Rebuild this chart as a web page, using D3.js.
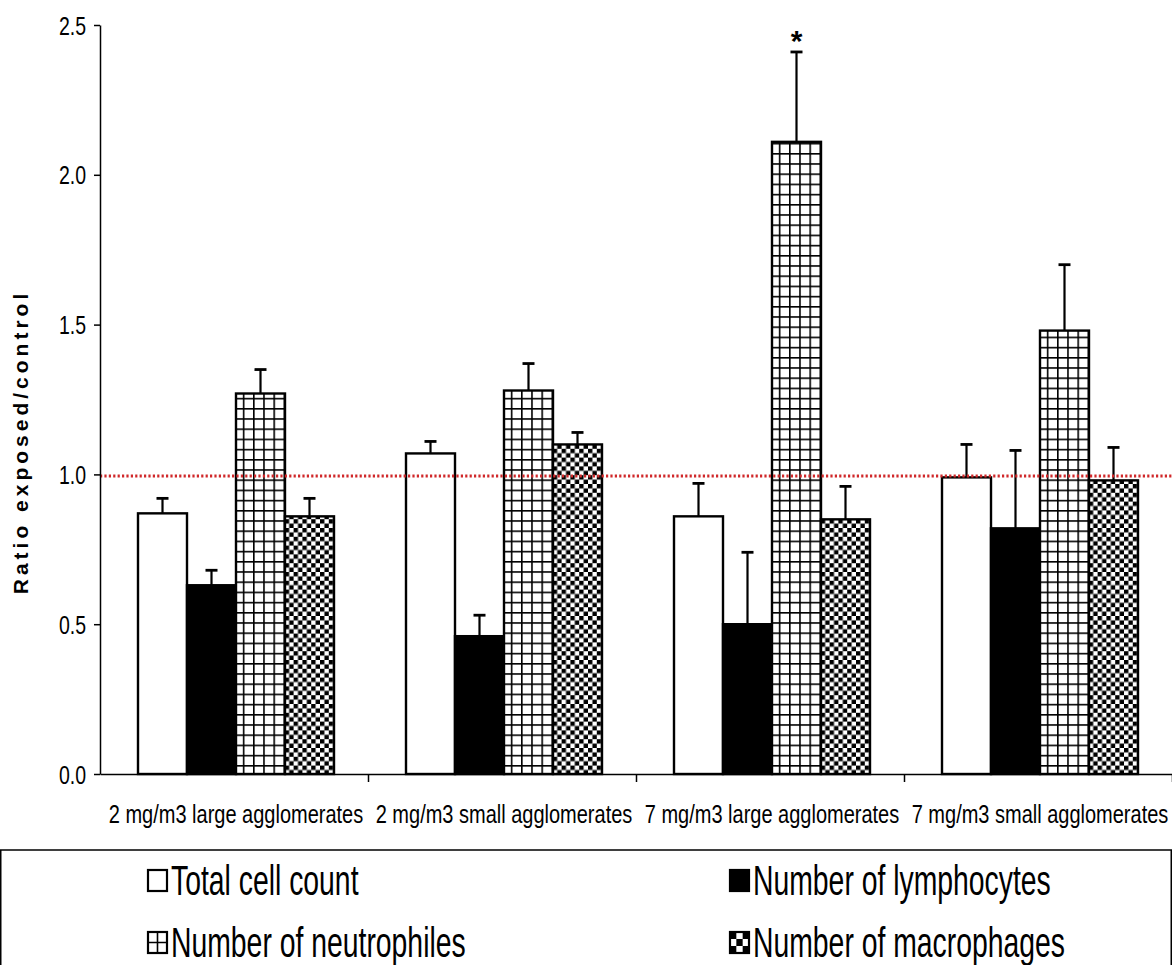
<!DOCTYPE html>
<html>
<head>
<meta charset="utf-8">
<script src="https://cdn.jsdelivr.net/npm/d3@7"></script>
<style>
  html, body { margin: 0; padding: 0; background: #fff; }
  svg { display: block; }
  text { font-family: "Liberation Sans", Arial, sans-serif; fill: #000; }
</style>
</head>
<body>
<svg id="chart" width="1172" height="965"></svg>
<script>
// Exposure groups and the four cell measures (ratio exposed / control)
const groups = [
  "2 mg/m3 large agglomerates",
  "2 mg/m3 small agglomerates",
  "7 mg/m3 large agglomerates",
  "7 mg/m3 small agglomerates"
];
const seriesNames = [
  "Total cell count",
  "Number of lymphocytes",
  "Number of neutrophiles",
  "Number of macrophages"
];
const totalCells   = [0.87, 1.07, 0.86, 0.99];
const lymphocytes  = [0.63, 0.46, 0.50, 0.82];
const neutrophiles = [1.27, 1.28, 2.11, 1.48];
const macrophages  = [0.86, 1.10, 0.85, 0.98];
// Upper end of each error bar
const totalCellsErr   = [0.92, 1.11, 0.97, 1.10];
const lymphocytesErr  = [0.68, 0.53, 0.74, 1.08];
const neutrophilesErr = [1.35, 1.37, 2.41, 1.70];
const macrophagesErr  = [0.92, 1.14, 0.96, 1.09];
const significant = [[2, 2]]; // [group, series] marked with *
const yTicks = [0, 0.5, 1.0, 1.5, 2.0, 2.5];
const referenceLevel = 1.0;

const values = [totalCells, lymphocytes, neutrophiles, macrophages];
const errors = [totalCellsErr, lymphocytesErr, neutrophilesErr, macrophagesErr];

const svg = d3.select("#chart");
const plotLeft = 100, plotRight = 1172, plotTop = 25, plotBottom = 774;

const y = d3.scaleLinear().domain([0, 2.5]).range([plotBottom, plotTop]);
const x0 = d3.scaleBand().domain(groups).range([plotLeft, plotRight]).paddingInner(0).paddingOuter(0);
const x1 = d3.scaleBand().domain(seriesNames).range([38, x0.bandwidth() - 34]).padding(0);

// Fill patterns
const defs = svg.append("defs");
const grid = defs.append("pattern").attr("id", "grid").attr("patternUnits", "userSpaceOnUse")
  .attr("width", 10.2).attr("height", 10.2);
grid.append("rect").attr("width", 10.2).attr("height", 10.2).attr("fill", "#fff");
grid.append("rect").attr("x", 0).attr("y", 0).attr("width", 1.6).attr("height", 10.2).attr("fill", "#000");
grid.append("rect").attr("x", 0).attr("y", 0).attr("width", 10.2).attr("height", 1.6).attr("fill", "#000");

const cs = 4.4;
const checker = defs.append("pattern").attr("id", "checker").attr("patternUnits", "userSpaceOnUse")
  .attr("width", cs * 2).attr("height", cs * 2);
checker.append("rect").attr("width", cs * 2).attr("height", cs * 2).attr("fill", "#fff");
checker.append("rect").attr("x", 0).attr("y", 0).attr("width", cs).attr("height", cs).attr("fill", "#000");
checker.append("rect").attr("x", cs).attr("y", cs).attr("width", cs).attr("height", cs).attr("fill", "#000");

const fills = ["#fff", "#000", "url(#grid)", "url(#checker)"];

// Bars
const groupG = svg.selectAll("g.group").data(groups).join("g")
  .attr("class", "group")
  .attr("transform", d => `translate(${x0(d)},0)`);

groupG.each(function(g, gi) {
  const gsel = d3.select(this);
  seriesNames.forEach((s, si) => {
    const v = values[si][gi];
    const e = errors[si][gi];
    const bx = x1(s), bw = x1.bandwidth();
    const cx = bx + bw / 2;
    // error bar (upper only)
    gsel.append("line").attr("x1", cx).attr("x2", cx).attr("y1", y(v)).attr("y2", y(e))
      .attr("stroke", "#000").attr("stroke-width", 2.2);
    gsel.append("line").attr("x1", cx - 6).attr("x2", cx + 6).attr("y1", y(e)).attr("y2", y(e))
      .attr("stroke", "#000").attr("stroke-width", 2.8);
    gsel.append("rect")
      .attr("x", bx).attr("y", y(v)).attr("width", bw).attr("height", y(0) - y(v))
      .attr("fill", fills[si]).attr("stroke", "#000").attr("stroke-width", 2.4);
  });
});

// Significance marks
significant.forEach(([gi, si]) => {
  const cx = x0(groups[gi]) + x1(seriesNames[si]) + x1.bandwidth() / 2;
  svg.append("text").attr("x", cx).attr("y", y(errors[si][gi]) - 1)
    .attr("text-anchor", "middle").attr("font-size", 30).attr("font-weight", "bold")
    .text("*");
});

// Reference line at ratio 1
svg.append("line").attr("x1", plotLeft).attr("x2", plotRight)
  .attr("y1", y(referenceLevel) + 1.5).attr("y2", y(referenceLevel) + 1.5)
  .attr("stroke", "#d0282a").attr("stroke-width", 3).attr("stroke-dasharray", "2.2,2.2");

// Axes
const yAxis = d3.axisLeft(y).tickValues(yTicks).tickFormat(d3.format(".1f")).tickSize(6).tickSizeOuter(0);
const yg = svg.append("g").attr("transform", `translate(${plotLeft},0)`).call(yAxis);
yg.select(".domain").attr("stroke", "#000").attr("stroke-width", 1.5);
yg.selectAll(".tick line").attr("stroke", "#000").attr("stroke-width", 1.5);
yg.selectAll(".tick text").attr("font-size", 25).attr("x", 0).attr("dy", "0.36em")
  .attr("font-family", "Liberation Sans, Arial, sans-serif")
  .attr("transform", "translate(-14,0) scale(0.78,1)");

const xAxis = d3.axisBottom(d3.scaleLinear().domain([0, 4]).range([plotLeft, plotRight]))
  .tickValues([1, 2, 3, 4]).tickFormat("").tickSize(8).tickSizeOuter(0);
const xg = svg.append("g").attr("transform", `translate(0,${plotBottom})`).call(xAxis);
xg.select(".domain").attr("stroke", "#000").attr("stroke-width", 1.5);
xg.selectAll(".tick line").attr("stroke", "#000").attr("stroke-width", 1.5);

// Condensed category labels
svg.append("g").selectAll("text").data(groups).join("text")
  .attr("transform", d => `translate(${x0(d) + x0.bandwidth() / 2 + 2},823) scale(0.8,1)`)
  .attr("text-anchor", "middle")
  .attr("font-size", 25)
  .text(d => d);

// Y axis title
svg.append("text")
  .attr("transform", `translate(28,442) rotate(-90)`)
  .attr("text-anchor", "middle")
  .attr("font-size", 21).attr("font-weight", "bold")
  .attr("letter-spacing", 4)
  .text("Ratio exposed/control");

// Legend
svg.append("rect").attr("x", 0.75).attr("y", 850).attr("width", 1170.5).attr("height", 140)
  .attr("fill", "none").attr("stroke", "#000").attr("stroke-width", 1.5);

const legendPos = [[148, 895], [730, 895], [148, 957], [730, 957]];

const lg = defs.append("pattern").attr("id", "legGrid").attr("patternUnits", "objectBoundingBox")
  .attr("width", 1).attr("height", 1);
lg.append("rect").attr("width", 19).attr("height", 21).attr("fill", "#fff");
lg.append("path").attr("d", "M9.5,0V21M0,10.5H19").attr("stroke", "#000").attr("stroke-width", 1.6);

const lc = defs.append("pattern").attr("id", "legChecker").attr("patternUnits", "objectBoundingBox")
  .attr("width", 1).attr("height", 1);
lc.append("rect").attr("width", 19).attr("height", 21).attr("fill", "#000");
[[1, 0], [0, 1], [2, 1], [1, 2]].forEach(([cx, cy]) => {
  lc.append("rect").attr("x", cx * 19 / 3).attr("y", cy * 21 / 3)
    .attr("width", 19 / 3).attr("height", 21 / 3).attr("fill", "#fff");
});

const legendFills = ["#fff", "#000", "url(#legGrid)", "url(#legChecker)"];

const legend = svg.append("g").selectAll("g").data(seriesNames).join("g")
  .attr("transform", (d, i) => `translate(${legendPos[i][0]},${legendPos[i][1]})`);
legend.append("rect").attr("x", 0).attr("y", -25).attr("width", 19).attr("height", 21)
  .attr("fill", (d, i) => legendFills[i]).attr("stroke", "#000").attr("stroke-width", 2.2);
legend.append("text")
  .attr("transform", "translate(23,0) scale(0.675,1)")
  .attr("font-size", 42).text(d => d);
</script>
</body>
</html>
